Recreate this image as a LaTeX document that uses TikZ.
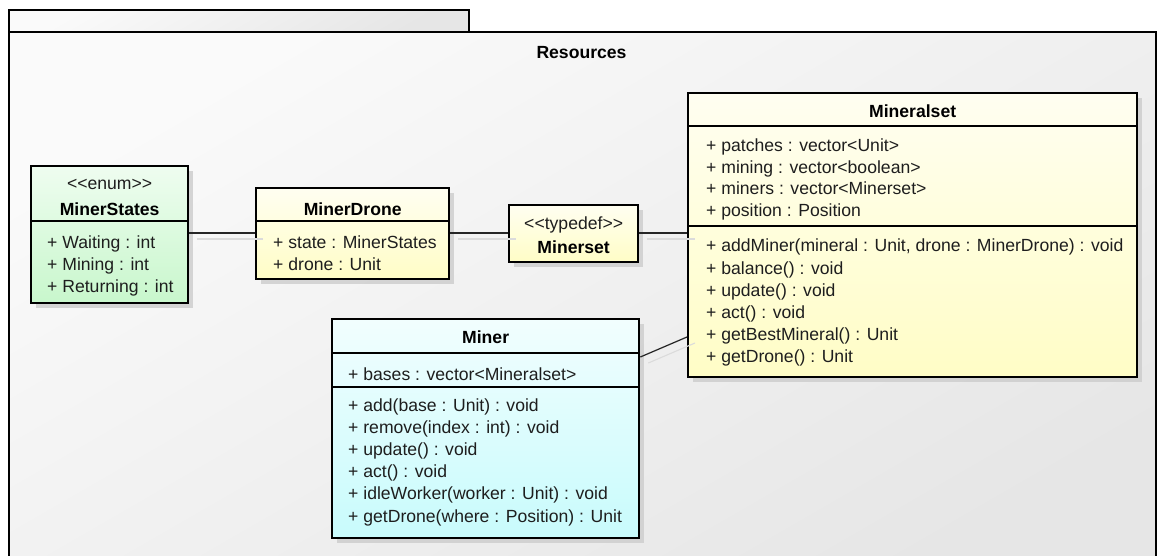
\documentclass[tikz,border=0pt]{standalone}
\usepackage{fontspec}
\usetikzlibrary{shadows}
\newfontfamily\umlsans{Liberation Sans}
\newcommand\umlfont{\umlsans\fontsize{17.6}{21}\selectfont}
\definecolor{enumgreen}{HTML}{C8F7CC}
\definecolor{notepale}{HTML}{FFFDC6}
\definecolor{classcyan}{HTML}{C8FBFC}
\definecolor{pkglight}{HTML}{FAFAFA}
\definecolor{pkgdark}{HTML}{E6E6E6}
\definecolor{inktext}{HTML}{1E1E1E}
\tikzset{
  pkgbox/.style={rectangle, draw=black, line width=2pt, inner sep=0pt,
    anchor=north west, top color=pkglight, bottom color=pkgdark, shading angle=30},
  umlbox/.style={rectangle, draw=black, line width=2.3pt, inner sep=0pt,
    anchor=north west, shading angle=40,
    drop shadow={shadow xshift=4.5pt, shadow yshift=-4.5pt, fill=black!20, opacity=0.8}},
  greenbox/.style={umlbox, top color=enumgreen!30!white, bottom color=enumgreen},
  yellowbox/.style={umlbox, top color=notepale!25!white, bottom color=notepale},
  cyanbox/.style={umlbox, top color=classcyan!25!white, bottom color=classcyan},
  divider/.style={draw=black, line width=1.3pt},
  assoc/.style={draw=black!85, line width=1.2pt},
  assocshade/.style={draw=black!14, line width=1.1pt},
  member/.style={font=\umlfont, text=inktext, inner sep=0pt, anchor=base west},
  ctitle/.style={font=\umlfont\bfseries, text=black, inner sep=0pt, anchor=base},
  stereo/.style={font=\umlfont, text=inktext, inner sep=0pt, anchor=base},
}
\begin{document}
\begin{tikzpicture}[x=1pt,y=-1pt]
\useasboundingbox (0,0) rectangle (1157,555);
\clip (0,0) rectangle (1157,555);

% package frame with its tab
\node[pkgbox, minimum width=460pt, minimum height=22pt] (pkgtab) at (8,9) {};
\node[pkgbox, minimum width=1147pt, minimum height=560pt] (pkg) at (8,31) {};
\node[ctitle] (pkgname) at (581.5,58) {Resources};

% classes
\node[greenbox, minimum width=157pt, minimum height=137pt] (ms) at (30,165) {};
\node[yellowbox, minimum width=193pt, minimum height=91pt] (md) at (255,187) {};
\node[yellowbox, minimum width=129pt, minimum height=57pt] (mst) at (508,204) {};
\node[yellowbox, minimum width=449pt, minimum height=284pt] (mset) at (687,92) {};
\node[cyanbox, minimum width=307pt, minimum height=219pt] (mi) at (331,318) {};

% association end points on the class borders
\coordinate (msR) at (ms.east |- 0,233);
\coordinate (mdL) at (md.west |- 0,233);
\coordinate (mdR) at (md.east |- 0,233);
\coordinate (mstL) at (mst.west |- 0,233);
\coordinate (mstR) at (mst.east |- 0,233);
\coordinate (msetL) at (mset.west |- 0,233);
\coordinate (miR) at (mi.east |- 0,357);
\coordinate (msetL2) at (mset.west |- 0,337);

% faint connector shadows
\draw[assocshade] ([shift={(8,6)}]msR) -- ([shift={(8,6)}]mdL);
\draw[assocshade] ([shift={(8,6)}]mdR) -- ([shift={(8,6)}]mstL);
\draw[assocshade] ([shift={(8,6)}]mstR) -- ([shift={(8,6)}]msetL);
\draw[assocshade] ([shift={(8,6)}]miR) -- ([shift={(8,6)}]msetL2);

% associations
\draw[assoc] (msR) -- (mdL);
\draw[assoc] (mdR) -- (mstL);
\draw[assoc] (mstR) -- (msetL);
\draw[assoc] (miR) -- (msetL2);

% MinerStates
\node[stereo] (msS) at (ms.north |- 0,189) {<<enum>>};
\node[ctitle] (msT) at (ms.north |- 0,215) {MinerStates};
\draw[divider] (ms.west |- 0,221) -- (ms.east |- 0,221);
\node[member] (ms1) at (47,248) {+ Waiting : int};
\node[member] (ms2) at (47,270) {+ Mining : int};
\node[member] (ms3) at (47,292) {+ Returning : int};

% MinerDrone
\node[ctitle] (mdT) at (md.north |- 0,215) {MinerDrone};
\draw[divider] (md.west |- 0,221) -- (md.east |- 0,221);
\node[member] (md1) at (273,248) {+ state : MinerStates};
\node[member] (md2) at (273,270) {+ drone : Unit};

% Minerset
\node[stereo] (mstS) at (mst.north |- 0,229) {<<typedef>>};
\node[ctitle] (mstT) at (mst.north |- 0,253) {Minerset};

% Mineralset
\node[ctitle] (msetT) at (mset.north |- 0,117) {Mineralset};
\draw[divider] (mset.west |- 0,126) -- (mset.east |- 0,126);
\node[member] (mseta1) at (706,151) {+ patches : vector<Unit>};
\node[member] (mseta2) at (706,173) {+ mining : vector<boolean>};
\node[member] (mseta3) at (706,194.5) {+ miners : vector<Minerset>};
\node[member] (mseta4) at (706,216) {+ position : Position};
\draw[divider] (mset.west |- 0,226) -- (mset.east |- 0,226);
\node[member] (msetm1) at (706,251) {+ addMiner(mineral : Unit, drone : MinerDrone) : void};
\node[member] (msetm2) at (706,274) {+ balance() : void};
\node[member] (msetm3) at (706,296) {+ update() : void};
\node[member] (msetm4) at (706,318) {+ act() : void};
\node[member] (msetm5) at (706,340.5) {+ getBestMineral() : Unit};
\node[member] (msetm6) at (706,362.5) {+ getDrone() : Unit};

% Miner
\node[ctitle] (miT) at (mi.north |- 0,343) {Miner};
\draw[divider] (mi.west |- 0,353) -- (mi.east |- 0,353);
\node[member] (mia1) at (348,380) {+ bases : vector<Mineralset>};
\draw[divider] (mi.west |- 0,387) -- (mi.east |- 0,387);
\node[member] (mim1) at (348,411.5) {+ add(base : Unit) : void};
\node[member] (mim2) at (348,433) {+ remove(index : int) : void};
\node[member] (mim3) at (348,455) {+ update() : void};
\node[member] (mim4) at (348,477) {+ act() : void};
\node[member] (mim5) at (348,499.5) {+ idleWorker(worker : Unit) : void};
\node[member] (mim6) at (348,522) {+ getDrone(where : Position) : Unit};
\end{tikzpicture}
\end{document}
